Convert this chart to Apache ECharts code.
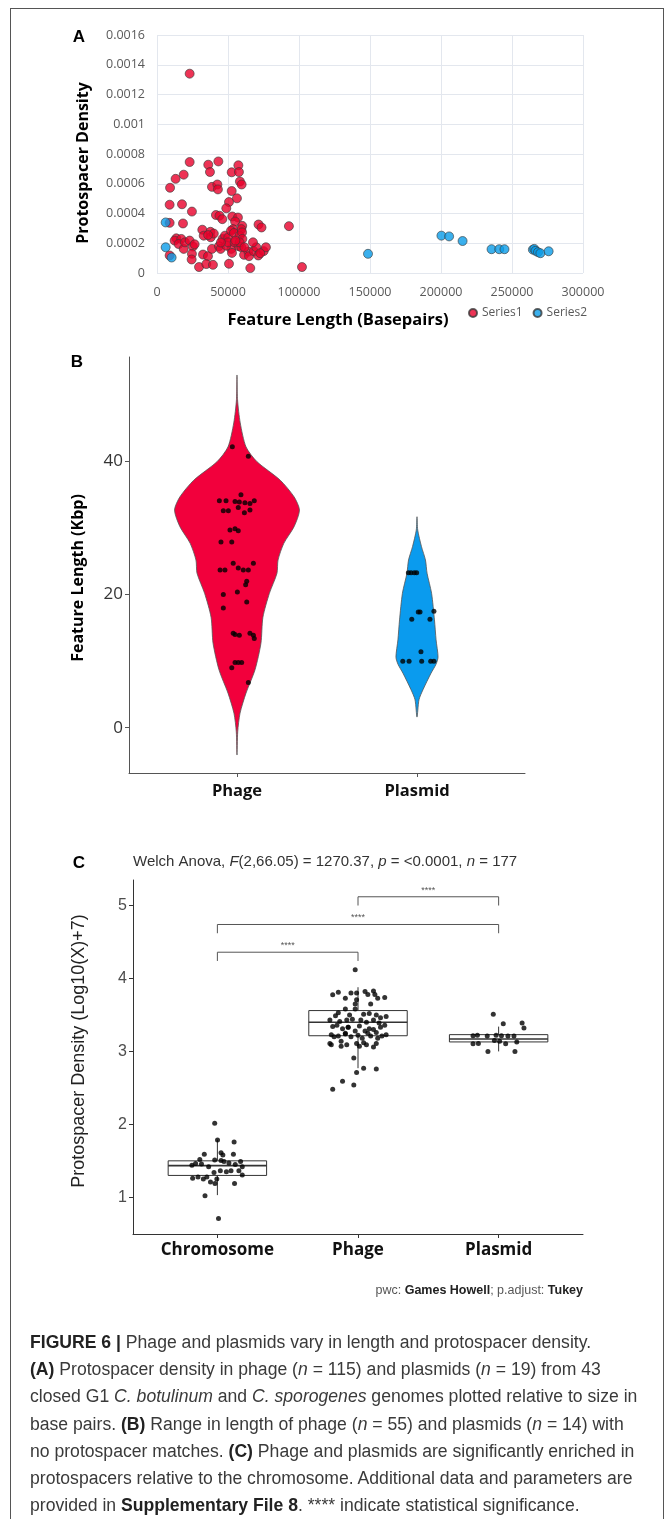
<!DOCTYPE html>
<html>
<head>
<meta charset="utf-8">
<title>Figure 6</title>
<script src="https://cdn.jsdelivr.net/npm/echarts@6/dist/echarts.min.js"></script>
<style>
  html, body { margin: 0; padding: 0; background: #fff; }
  #wrap { position: relative; width: 672px; height: 1519px; overflow: hidden; }
  #chart { position: absolute; left: 0; top: 0; width: 672px; height: 1519px; }
  #frame { position: absolute; left: 10px; top: 8px; width: 652px; height: 1540px; border: 1px solid #555; }
  #caption { position: absolute; left: 30px; top: 1329px; font-family: 'Liberation Sans', Arial, sans-serif;
             font-size: 17.6px; line-height: 27.2px; color: #3a3a3a; }
  #caption div { white-space: nowrap; }
  #caption b { color: #222; }
</style>
</head>
<body>
<div id="wrap">
  <div id="frame"></div>
  <div id="chart"></div>
  <div id="caption">
    <div><b>FIGURE 6 |</b> Phage and plasmids vary in length and protospacer density.</div>
    <div><b>(A)</b> Protospacer density in phage (<i>n</i> = 115) and plasmids (<i>n</i> = 19) from 43</div>
    <div>closed G1 <i>C. botulinum</i> and <i>C. sporogenes</i> genomes plotted relative to size in</div>
    <div>base pairs. <b>(B)</b> Range in length of phage (<i>n</i> = 55) and plasmids (<i>n</i> = 14) with</div>
    <div>no protospacer matches. <b>(C)</b> Phage and plasmids are significantly enriched in</div>
    <div>protospacers relative to the chromosome. Additional data and parameters are</div>
    <div>provided in <b>Supplementary File 8</b>. **** indicate statistical significance.</div>
  </div>
</div>
<script>
// ---- panel A : feature length (bp) vs protospacer density
var aSeriesNames = ['Series1', 'Series2'];
var aSeries1 = [
  [23000,0.00134],[23000,0.000746],[36100,0.000728],[43200,0.00075],[37300,0.000679],[18800,0.000661],
  [13100,0.000633],[9200,0.000573],[57300,0.000724],[52600,0.000677],[57700,0.000679],[58400,0.000615],
  [59600,0.000595],[38700,0.000579],[42500,0.000595],[42900,0.000562],[52600,0.000551],[56300,0.000502],
  [50700,0.000477],[8900,0.000459],[17600,0.000462],[24600,0.000413],[48800,0.000435],[41500,0.00039],
  [44000,0.000385],[46000,0.000362],[8900,0.000337],[18300,0.000333],[53000,0.00038],[57000,0.000373],
  [55000,0.000346],[60000,0.000317],[59400,0.000295],[53500,0.000295],[31900,0.000291],[32900,0.000251],
  [37600,0.000277],[37800,0.00024],[46200,0.000229],[47900,0.000251],[50200,0.00024],[52100,0.000284],
  [54200,0.000269],[58200,0.000251],[59900,0.000273],[60100,0.000229],[13600,0.000233],[12400,0.000218],
  [17100,0.000229],[15200,0.000195],[18800,0.000162],[19700,0.000206],[23000,0.000218],[25300,0.000178],
  [26500,0.000193],[24600,0.000129],[24400,0.000091],[29600,0.00004],[32400,0.000124],[35900,0.000113],
  [34700,0.00006],[39400,0.000055],[38700,0.000162],[43600,0.00018],[44800,0.000162],[52300,0.000162],
  [52800,0.000135],[50700,0.000062],[57500,0.00018],[59400,0.000173],[61300,0.000122],[64300,0.000144],
  [64800,0.000113],[65700,0.000033],[68100,0.000147],[69900,0.000173],[67600,0.000206],[71300,0.000118],
  [75100,0.000147],[76700,0.000173],[72700,0.000133],[71500,0.000326],[73600,0.000306],[92900,0.000315],
  [102100,0.00004],[48800,0.000184],[50000,0.000206],[54700,0.000206],[58200,0.000206],[55200,0.000218],
  [8900,0.000118],[61600,0.000173],[45000,0.000205],[40000,0.000265],[36000,0.000255]
];
var aSeries2 = [
  [6100,0.00034],[6100,0.000173],[10300,0.000104],[148600,0.000129],[200300,0.000251],[205700,0.000246],
  [215200,0.000215],[235600,0.00016],[241000,0.00016],[244700,0.00016],[264700,0.000157],[265700,0.000162],
  [266600,0.000149],[268300,0.00014],[270000,0.000133],[275800,0.000146]
];
var aXLabels = ['0','50000','100000','150000','200000','250000','300000'];
var aYLabels = ['0','0.0002','0.0004','0.0006','0.0008','0.001','0.0012','0.0014','0.0016'];

// ---- panel B : violin of feature length (Kbp)
var violinGroups = ['Phage', 'Plasmid'];
var phageProfileY = [53, 49.3, 45.8, 42.2, 40, 37.2, 34.7, 32.7, 30.2, 27.7, 25.2, 23.2, 20.2, 16.6, 12.7, 8.7, 5.2, 2.2, -0.6, -4.1];
var phageProfileW = [0, 0.003, 0.018, 0.05, 0.11, 0.24, 0.317, 0.347, 0.317, 0.26, 0.228, 0.222, 0.18, 0.144, 0.133, 0.1, 0.05, 0.017, 0.004, 0];
var plasmidProfileY = [31.7, 29.7, 27.2, 25.2, 23.2, 20.2, 16.2, 13.2, 10.6, 9.5, 8.2, 5.7, 4.2, 1.6];
var plasmidProfileW = [0, 0.004, 0.025, 0.047, 0.056, 0.081, 0.097, 0.106, 0.117, 0.105, 0.078, 0.033, 0.011, 0];
// [jitter, Kbp]
var phageLenDots = [
  [-0.026,42.2],[0.063,40.8],[0.022,35.0],[-0.098,34.1],[-0.061,34.1],[-0.011,34.0],[0.013,33.9],[0.044,33.8],
  [0.072,33.7],[0.096,34.1],[-0.076,32.6],[-0.048,32.6],[0.007,33.1],[0.041,32.3],[0.072,32.7],[-0.039,29.7],
  [-0.011,29.9],[0.007,29.6],[-0.089,27.9],[-0.029,27.9],[-0.094,23.7],[-0.067,23.7],[-0.021,24.7],[0.007,24.0],
  [0.035,23.7],[0.063,23.7],[0.091,24.7],[0.054,22.0],[0.048,21.5],[0.002,20.4],[-0.076,20.0],[0.054,18.9],
  [-0.076,18.0],[-0.021,14.2],[0.013,13.9],[-0.011,14.0],[0.072,14.2],[0.091,13.9],[0.096,13.4],[-0.011,9.8],
  [0.007,9.8],[0.026,9.8],[-0.029,9.0],[0.063,6.8]
];
var plasmidLenDots = [
  [-0.048,23.3],[-0.033,23.3],[-0.015,23.3],[-0.002,23.3],[0.007,17.4],[0.017,17.4],[0.094,17.5],[-0.029,16.3],
  [0.072,16.3],[0.022,11.4],[-0.079,10.0],[-0.044,10.0],[0.026,10.0],[0.076,10.0],[0.094,10.0]
];
var bTicks = [0, 20, 40];

// ---- panel C : box + jitter of log density
var boxGroups = ['Chromosome', 'Phage', 'Plasmid'];
// [lower whisker, Q1, median, Q3, upper whisker]
var boxStats = [
  [1.03, 1.30, 1.435, 1.50, 1.79],
  [2.77, 3.215, 3.40, 3.56, 3.88],
  [3.0, 3.13, 3.17, 3.23, 3.34]
];
var chromDensDots = [
  [-0.019,2.015],[0.001,1.786],[0.119,1.759],[-0.093,1.59],[0.026,1.61],[0.039,1.58],[0.114,1.59],[-0.125,1.52],
  [-0.155,1.465],[-0.181,1.44],[-0.113,1.455],[-0.062,1.42],[-0.019,1.51],[0.026,1.505],[0.047,1.49],[0.082,1.47],
  [0.127,1.45],[0.165,1.49],[0.177,1.42],[0.153,1.365],[0.097,1.365],[0.064,1.35],[0.021,1.365],[-0.024,1.34],
  [-0.075,1.28],[-0.138,1.28],[-0.176,1.26],[-0.1,1.25],[-0.049,1.21],[-0.017,1.19],[-0.004,1.25],[0.177,1.305],
  [0.122,1.19],[-0.088,1.02],[0.008,0.71]
];
var phageDensDots = [
  [-0.02,4.12],[-0.18,3.776],[-0.14,3.81],[-0.09,3.73],[-0.05,3.80],[-0.01,3.80],[-0.01,3.71],[0.05,3.82],
  [0.07,3.78],[0.11,3.83],[0.12,3.78],[0.14,3.73],[0.19,3.74],[0.09,3.65],[-0.02,3.65],[-0.02,3.58],
  [-0.09,3.58],[-0.14,3.53],[-0.16,3.49],[-0.06,3.50],[0.04,3.51],[0.08,3.52],[0.13,3.50],[0.16,3.46],
  [0.2,3.48],[-0.2,3.43],[-0.13,3.41],[-0.08,3.43],[-0.04,3.44],[0.02,3.43],[0.06,3.40],[0.11,3.43],
  [0.15,3.39],[0.19,3.36],[-0.18,3.34],[-0.11,3.31],[-0.07,3.33],[-0.02,3.28],[0.01,3.35],[0.05,3.28],
  [0.08,3.31],[0.13,3.26],[0.16,3.33],[0.2,3.23],[-0.19,3.23],[-0.14,3.21],[-0.09,3.24],[-0.05,3.20],
  [0,3.22],[0.03,3.18],[0.09,3.21],[0.14,3.18],[-0.2,3.11],[-0.12,3.14],[-0.08,3.09],[0.01,3.07],
  [0.06,3.09],[0.11,3.06],[0.13,3.11],[-0.19,3.09],[-0.12,3.07],[-0.01,3.11],[0.04,3.12],[0.17,3.21],
  [-0.17,3.2],[-0.09,3.25],[0.07,3.25],[0.11,3.3],[-0.15,3.36],[-0.07,3.33],
  [-0.03,2.91],[-0.01,2.71],[0.04,2.77],[0.13,2.76],[-0.11,2.59],[-0.03,2.54],[-0.18,2.48]
];
var plasmidDensDots = [
  [-0.038,3.51],[0.033,3.38],[0.167,3.39],[0.18,3.32],[-0.182,3.215],[-0.151,3.22],[-0.081,3.21],[-0.018,3.22],
  [0.02,3.215],[0.066,3.21],[0.109,3.21],[-0.182,3.105],[-0.144,3.11],[-0.03,3.15],[0.007,3.14],[0.05,3.105],
  [0.129,3.13],[-0.076,3.0],[0.116,3.0]
];
// [from group, to group, bracket level]
var brackets = [[1, 2, 4.36], [1, 3, 4.74], [2, 3, 5.12]];
var bracketLabels = ['****', '****', '****'];
var cTicks = [1, 2, 3, 4, 5];

var chart = echarts.init(document.getElementById('chart'));

var violinProfiles = [
  { y: phageProfileY, w: phageProfileW, color: '#F2003C' },
  { y: plasmidProfileY, w: plasmidProfileW, color: '#0A9BEE' }
];

function violinItem(params, api) {
  var p = violinProfiles[params.dataIndex];
  var c = params.dataIndex + 1;
  var pts = [];
  for (var k = 0; k < p.y.length; k++) pts.push(api.coord([c + p.w[k], p.y[k]]));
  for (var j = p.y.length - 1; j >= 0; j--) {
    if (p.w[j] > 0) pts.push(api.coord([c - p.w[j], p.y[j]]));
  }
  return {
    type: 'polygon',
    shape: { points: pts, smooth: 0.25 },
    style: { fill: p.color, stroke: '#555', lineWidth: 0.8 }
  };
}

function boxItem(params, api) {
  var s = boxStats[params.dataIndex], c = params.dataIndex + 1, hw = 0.35;
  var tl = api.coord([c - hw, s[3]]), br = api.coord([c + hw, s[1]]);
  var mL = api.coord([c - hw, s[2]]), mR = api.coord([c + hw, s[2]]);
  var w0 = api.coord([c, s[0]]), w1 = api.coord([c, s[1]]);
  var w3 = api.coord([c, s[3]]), w4 = api.coord([c, s[4]]);
  var ls = { stroke: '#333', lineWidth: 1 };
  return {
    type: 'group',
    children: [
      { type: 'line', shape: { x1: w0[0], y1: w0[1], x2: w1[0], y2: w1[1] }, style: ls },
      { type: 'line', shape: { x1: w3[0], y1: w3[1], x2: w4[0], y2: w4[1] }, style: ls },
      { type: 'rect', shape: { x: tl[0], y: tl[1], width: br[0] - tl[0], height: br[1] - tl[1] },
        style: { fill: '#fff', stroke: '#333', lineWidth: 1 } },
      { type: 'line', shape: { x1: mL[0], y1: mL[1], x2: mR[0], y2: mR[1] }, style: { stroke: '#333', lineWidth: 1.6 } }
    ]
  };
}

function bracketItem(params, api) {
  var b = brackets[params.dataIndex], tip = 0.12;
  var a0 = api.coord([b[0], b[2] - tip]), a1 = api.coord([b[0], b[2]]);
  var b1 = api.coord([b[1], b[2]]), b0 = api.coord([b[1], b[2] - tip]);
  return {
    type: 'group',
    children: [
      { type: 'polyline', shape: { points: [a0, a1, b1, b0] }, style: { stroke: '#555', lineWidth: 1, fill: null } },
      { type: 'text', x: (a1[0] + b1[0]) / 2, y: a1[1] - 2,
        style: { text: bracketLabels[params.dataIndex], align: 'center', verticalAlign: 'bottom',
                 fontSize: 9, fill: '#555', fontFamily: 'Liberation Sans' } }
    ]
  };
}

function jitter(dots, c) {
  return dots.map(function (d) { return [c + d[0], d[1]]; });
}

var dotStyle = { color: '#000' };

var option = {
  animation: false,
  backgroundColor: 'transparent',
  grid: [
    { left: 157, top: 35, width: 426, height: 238 },
    { left: 129, top: 357, width: 396, height: 416 },
    { left: 133, top: 880, width: 450, height: 354 }
  ],
  legend: {
    data: aSeriesNames, left: 463, top: 302, icon: 'circle', itemWidth: 8, itemHeight: 8, itemGap: 10,
    textStyle: { color: '#595959', fontSize: 12, fontFamily: 'Open Sans' }
  },
  xAxis: [
    { gridIndex: 0, type: 'value', min: 0, max: 300000, interval: 50000,
      axisLine: { show: false }, axisTick: { show: false },
      splitLine: { lineStyle: { color: '#e3e7ee' } },
      axisLabel: { color: '#595959', fontSize: 12.5, fontFamily: 'Open Sans', margin: 13,
                   formatter: function (v) { return aXLabels[Math.round(v / 50000)]; } } },
    { gridIndex: 1, type: 'value', min: 0.4, max: 2.6,
      axisLine: { onZero: false, lineStyle: { color: '#555' } },
      axisTick: { customValues: [1, 2], length: 4, lineStyle: { color: '#555' } },
      splitLine: { show: false },
      axisLabel: { customValues: [1, 2], formatter: function (v) { return violinGroups[Math.round(v) - 1]; },
                   color: '#111', fontSize: 16.5, fontWeight: 'bold', fontFamily: 'Open Sans', margin: 10 } },
    { gridIndex: 2, type: 'value', min: 0.4, max: 3.6,
      axisLine: { onZero: false, lineStyle: { color: '#333' } },
      axisTick: { customValues: [1, 2, 3], length: 4, lineStyle: { color: '#333' } },
      splitLine: { show: false },
      axisLabel: { customValues: [1, 2, 3], formatter: function (v) { return boxGroups[Math.round(v) - 1]; },
                   color: '#111', fontSize: 17, fontWeight: 'bold', fontFamily: 'Open Sans', margin: 8 } }
  ],
  yAxis: [
    { gridIndex: 0, type: 'value', min: 0, max: 0.0016, interval: 0.0002,
      axisLine: { show: false }, axisTick: { show: false },
      splitLine: { lineStyle: { color: '#e3e7ee' } },
      axisLabel: { color: '#595959', fontSize: 12.5, fontFamily: 'Open Sans', margin: 12,
                   formatter: function (v) { return aYLabels[Math.round(v / 0.0002)]; } } },
    { gridIndex: 1, type: 'value', min: -6.8, max: 55.7,
      axisLine: { show: true, onZero: false, lineStyle: { color: '#555' } },
      axisTick: { show: true, customValues: bTicks, length: 4, lineStyle: { color: '#555' } },
      splitLine: { show: false },
      axisLabel: { customValues: bTicks, color: '#333', fontSize: 17, fontFamily: 'Open Sans', margin: 6 } },
    { gridIndex: 2, type: 'value', min: 0.497, max: 5.35,
      axisLine: { show: true, onZero: false, lineStyle: { color: '#333' } },
      axisTick: { show: true, customValues: cTicks, length: 4, lineStyle: { color: '#333' } },
      splitLine: { show: false },
      axisLabel: { customValues: cTicks, color: '#4d4d4d', fontSize: 16, fontFamily: 'Liberation Sans', margin: 6 } }
  ],
  graphic: [
    { type: 'text', x: 79, y: 37, style: { text: 'A', font: 'bold 17px "Liberation Sans"', fill: '#000', align: 'center', verticalAlign: 'middle' } },
    { type: 'text', x: 77, y: 362, style: { text: 'B', font: 'bold 17px "Liberation Sans"', fill: '#000', align: 'center', verticalAlign: 'middle' } },
    { type: 'text', x: 79, y: 863, style: { text: 'C', font: 'bold 17px "Liberation Sans"', fill: '#000', align: 'center', verticalAlign: 'middle' } },
    { type: 'text', x: 83, y: 163, rotation: Math.PI / 2,
      style: { text: 'Protospacer Density', font: 'bold 16px "Open Sans"', fill: '#000', align: 'center', verticalAlign: 'middle' } },
    { type: 'text', x: 338, y: 320,
      style: { text: 'Feature Length (Basepairs)', font: 'bold 16.5px "Open Sans"', fill: '#000', align: 'center', verticalAlign: 'middle' } },
    { type: 'text', x: 78, y: 578, rotation: Math.PI / 2,
      style: { text: 'Feature Length (Kbp)', font: 'bold 16px "Open Sans"', fill: '#000', align: 'center', verticalAlign: 'middle' } },
    { type: 'text', x: 79, y: 1051, rotation: Math.PI / 2,
      style: { text: 'Protospacer Density (Log10(X)+7)', font: '18px "Liberation Sans"', fill: '#222', align: 'center', verticalAlign: 'middle' } },
    { type: 'text', x: 133, y: 862,
      style: { text: 'Welch Anova, {i|F}(2,66.05) = 1270.37, {i|p} = <0.0001, {i|n} = 177',
               font: '15px "Liberation Sans"', fill: '#333', align: 'left', verticalAlign: 'middle',
               rich: { i: { fontStyle: 'italic', fontSize: 15, fontFamily: 'Liberation Sans', fill: '#333' } } } },
    { type: 'text', x: 583, y: 1291,
      style: { text: 'pwc: {b|Games Howell}; p.adjust: {b|Tukey}',
               font: '12.5px "Liberation Sans"', fill: '#555', align: 'right', verticalAlign: 'middle',
               rich: { b: { fontWeight: 'bold', fontSize: 12.5, fontFamily: 'Liberation Sans', fill: '#222' } } } }
  ],
  series: [
    { name: 'Series1', type: 'scatter', xAxisIndex: 0, yAxisIndex: 0, data: aSeries1, symbolSize: 9,
      itemStyle: { color: '#E8002B', borderColor: '#3a3a3a', borderWidth: 0.8 } },
    { name: 'Series2', type: 'scatter', xAxisIndex: 0, yAxisIndex: 0, data: aSeries2, symbolSize: 9,
      itemStyle: { color: '#0A9CE8', borderColor: '#3a3a3a', borderWidth: 0.8 } },

    { type: 'custom', xAxisIndex: 1, yAxisIndex: 1, renderItem: violinItem,
      data: [[1, 20], [2, 15]], z: 1 },
    { type: 'scatter', xAxisIndex: 1, yAxisIndex: 1, data: jitter(phageLenDots, 1), symbolSize: 5, itemStyle: dotStyle, z: 3 },
    { type: 'scatter', xAxisIndex: 1, yAxisIndex: 1, data: jitter(plasmidLenDots, 2), symbolSize: 5, itemStyle: dotStyle, z: 3 },

    { type: 'custom', xAxisIndex: 2, yAxisIndex: 2, renderItem: boxItem,
      data: boxStats.map(function (s, i) { return [i + 1, s[2]]; }), z: 1 },
    { type: 'custom', xAxisIndex: 2, yAxisIndex: 2, renderItem: bracketItem,
      data: brackets.map(function (b) { return [(b[0] + b[1]) / 2, b[2]]; }), z: 1 },
    { type: 'scatter', xAxisIndex: 2, yAxisIndex: 2, data: jitter(chromDensDots, 1), symbolSize: 5, itemStyle: dotStyle, z: 3 },
    { type: 'scatter', xAxisIndex: 2, yAxisIndex: 2, data: jitter(phageDensDots, 2), symbolSize: 5, itemStyle: dotStyle, z: 3 },
    { type: 'scatter', xAxisIndex: 2, yAxisIndex: 2, data: jitter(plasmidDensDots, 3), symbolSize: 5, itemStyle: dotStyle, z: 3 }
  ]
};
chart.setOption(option);
</script>
</body>
</html>
